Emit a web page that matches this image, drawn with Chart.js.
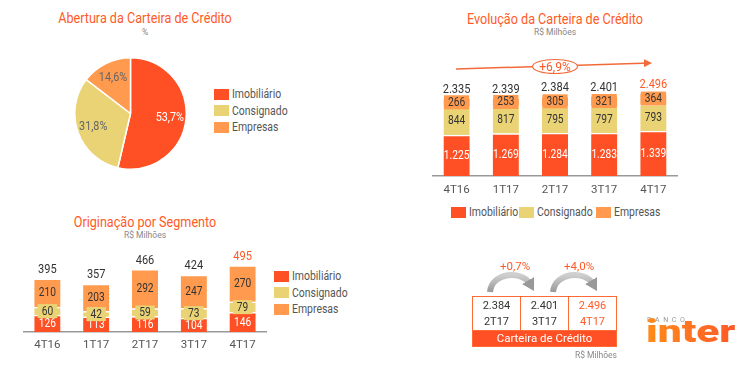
<!DOCTYPE html>
<html>
<head>
<meta charset="utf-8">
<script src="https://cdn.jsdelivr.net/npm/chart.js@4"></script>
<style>
  body { margin: 0; background: #fff; font-family: Roboto, sans-serif; }
  #page { position: relative; width: 745px; height: 369px; overflow: hidden; }
  .abs { position: absolute; }
  .title { color: #ff5a28; font-size: 14px; text-align: center; white-space: nowrap; transform: scaleX(0.9); }
  .sub { color: #888; font-size: 8.5px; text-align: center; white-space: nowrap; }
  .legend div { display: flex; align-items: center; height: 16.5px; color: #555; font-size: 12px; white-space: nowrap; }
  .sw { width: 15px; height: 11px; margin-right: 3px; display: inline-block; flex: none; }
  .txt { display: inline-block; transform: scaleX(0.87); transform-origin: left center; }
  .hlegend { display: flex; color: #555; font-size: 12px; align-items: center; }
  .hlegend div { display: flex; align-items: center; white-space: nowrap; }
  table.cart { border-collapse: collapse; font-size: 11px; }
  table.cart td { border: 1.5px solid #ff6a35; width: 47px; text-align: center; padding: 0; height: 33px; color: #333; line-height: 16px; }
  table.cart td.last { color: #ff5a28; }
  table.cart td.band { background: #ff5025; color: #fff; height: 15px; line-height: 15px; font-size: 11.5px; }
</style>
</head>
<body>
<div id="page">
  <div class="abs title" style="left:45px;top:10px;width:200px;">Abertura da Carteira de Crédito</div>
  <div class="abs sub" style="left:45px;top:27px;width:200px;">%</div>
  <canvas id="pie" class="abs" style="left:74px;top:57px;"></canvas>
  <div id="pieLegend" class="abs legend" style="left:214px;top:86px;"></div>

  <div class="abs title" style="left:455px;top:11px;width:200px;">Evolução da Carteira de Crédito</div>
  <div class="abs sub" style="left:455px;top:27px;width:200px;">R$ Milhões</div>
  <canvas id="evol" class="abs" style="left:432px;top:40px;"></canvas>
  <div id="evolLegend" class="abs hlegend" style="left:451px;top:205px;"></div>

  <div class="abs title" style="left:45px;top:214px;width:200px;">Originação por Segmento</div>
  <div class="abs sub" style="left:45px;top:230px;width:200px;">R$ Milhões</div>
  <canvas id="orig" class="abs" style="left:23px;top:240px;"></canvas>
  <div id="origLegend" class="abs legend" style="left:274px;top:268px;"></div>

  <svg class="abs" style="left:0;top:0;" width="745" height="369">
    <defs>
      <marker id="ah" markerWidth="8" markerHeight="8" refX="6" refY="4" orient="auto" markerUnits="userSpaceOnUse">
        <path d="M0,0 L8,4 L0,8 z" fill="#f26a3a"/>
      </marker>
      <marker id="gh" markerWidth="14" markerHeight="14" refX="4" refY="7" orient="auto" markerUnits="userSpaceOnUse">
        <path d="M0,0 L12,7 L0,14 z" fill="#999"/>
      </marker>
      <linearGradient id="gg" x1="0" y1="0" x2="0" y2="1">
        <stop offset="0" stop-color="#cfcfcf"/><stop offset="1" stop-color="#999"/>
      </linearGradient>
    </defs>
    <line x1="456" y1="69" x2="650" y2="63" stroke="#f26a3a" stroke-width="1.5" marker-end="url(#ah)"/>
    <ellipse cx="555" cy="66.5" rx="22.5" ry="7" fill="#fff" stroke="#f26a3a" stroke-width="1.2"/>
    <text x="555" y="70.5" text-anchor="middle" font-size="12" fill="#ff5a28" font-family="Roboto, sans-serif">+6,9%</text>
    <path d="M490,292 C492,272 522,270 530,284" fill="none" stroke="url(#gg)" stroke-width="6" marker-end="url(#gh)"/>
    <path d="M553,292 C555,272 585,270 593,284" fill="none" stroke="url(#gg)" stroke-width="6" marker-end="url(#gh)"/>
  </svg>
  <div id="growth1" class="abs" style="left:495px;top:259px;width:40px;text-align:center;color:#ff5a28;font-size:11.5px;"></div>
  <div id="growth2" class="abs" style="left:559px;top:259px;width:40px;text-align:center;color:#ff5a28;font-size:11.5px;"></div>

  <table id="cart" class="abs cart" style="left:472px;top:296px;"></table>
  <div class="abs sub" style="left:560px;top:350px;width:57px;text-align:right;">R$ Milhões</div>

  <div class="abs" style="left:647px;top:316px;font-size:7px;line-height:8px;letter-spacing:3.6px;color:#999;font-family:Roboto,sans-serif;">BANCO</div>
  <div id="logo" class="abs" style="left:646px;top:314px;font-size:31px;font-weight:900;font-family:Roboto,sans-serif;color:#ff7020;background:linear-gradient(90deg,#ff8c1a,#ff5a28);-webkit-background-clip:text;background-clip:text;-webkit-text-fill-color:transparent;line-height:36px;transform-origin:left top;white-space:nowrap;">inter</div>
</div>

<script>
const segments = ["Imobiliário", "Consignado", "Empresas"];
const colors = ["#ff5025", "#e9d375", "#ff9a4e"];

// Abertura da Carteira de Crédito (%)
const pieShares = [53.7, 31.8, 14.6];

// Evolução da Carteira de Crédito (R$ Milhões)
const quarters = ["4T16", "1T17", "2T17", "3T17", "4T17"];
const carteiraImob = [1225, 1269, 1284, 1283, 1339];
const carteiraCons = [844, 817, 795, 797, 793];
const carteiraEmp = [266, 253, 305, 321, 364];
const carteiraTotal = [2335, 2339, 2384, 2401, 2496];

// Originação por Segmento (R$ Milhões)
const origImob = [126, 113, 116, 104, 146];
const origCons = [60, 42, 59, 73, 79];
const origEmp = [210, 203, 292, 247, 270];
const origTotal = [395, 357, 466, 424, 495];

const growth = ["+0,7%", "+4,0%"];

const FONT = "Roboto, sans-serif";
const fmt = (v) => v.toLocaleString("pt-BR");

function buildLegend(id, widths) {
  const el = document.getElementById(id);
  segments.forEach((s, i) => {
    const d = document.createElement("div");
    if (widths) d.style.width = widths[i] + "px";
    d.innerHTML = '<span class="sw" style="background:' + colors[i] + '"></span><span class="txt">' + s + "</span>";
    el.appendChild(d);
  });
}
buildLegend("pieLegend");
buildLegend("evolLegend", [68, 76.6, 80]);
buildLegend("origLegend");

// logo wordmark stretched to the width of the original
const logo = document.getElementById("logo");
logo.style.transform = "scaleX(" + (89 / logo.offsetWidth) + ")";

// narrow text, like the condensed face of the original
function narrowText(ctx, txt, x, y, sx) {
  ctx.save();
  ctx.translate(x, y);
  ctx.scale(sx, 1);
  ctx.fillText(txt, 0, 0);
  ctx.restore();
}

// values inside segments and totals above the stacks
const barLabels = {
  id: "barLabels",
  afterDatasetsDraw(chart, args, opts) {
    const ctx = chart.ctx;
    ctx.save();
    ctx.font = "12px " + FONT;
    ctx.textAlign = "center";
    ctx.textBaseline = "middle";
    chart.data.datasets.forEach((ds, di) => {
      chart.getDatasetMeta(di).data.forEach((bar, i) => {
        const p = bar.getProps(["x", "y", "base"], true);
        const cy = (p.y + p.base) / 2;
        const txt = fmt(ds.data[i]);
        if (opts.boxes && opts.boxes[di]) {
          const w = ctx.measureText(txt).width * 0.85 + 8;
          ctx.fillStyle = ds.backgroundColor;
          ctx.fillRect(p.x - w / 2, cy - 7, w, 14);
        }
        ctx.fillStyle = di === 0 ? "#fff" : "#333";
        narrowText(ctx, txt, p.x, cy + 0.5, 0.85);
      });
    });
    const last = chart.getDatasetMeta(chart.data.datasets.length - 1).data;
    ctx.font = "13px " + FONT;
    last.forEach((bar, i) => {
      const p = bar.getProps(["x", "y"], true);
      ctx.fillStyle = i === last.length - 1 ? "#ff5a28" : "#333";
      narrowText(ctx, fmt(opts.totals[i]), p.x, p.y - opts.gap, 0.85);
    });
    ctx.restore();
  }
};

function stackedChart(id, w, h, datas, max, padTop, tickPad, boxes, totals, gap) {
  const c = document.getElementById(id);
  c.width = w; c.height = h;
  return new Chart(c, {
    type: "bar",
    data: {
      labels: quarters,
      datasets: datas.map((d, i) => ({
        label: segments[i],
        data: d,
        backgroundColor: colors[i],
        borderColor: "#fff",
        borderWidth: { top: 1.5, bottom: 0, left: 0, right: 0 },
        borderSkipped: false,
        barThickness: 26,
      })),
    },
    options: {
      responsive: false,
      animation: false,
      events: [],
      layout: { padding: { top: padTop, bottom: 0, left: 0, right: 0 } },
      plugins: { legend: { display: false }, tooltip: { enabled: false }, barLabels: { boxes, totals, gap } },
      scales: {
        x: {
          stacked: true,
          grid: { display: false, drawTicks: false },
          border: { display: true, color: "#999", width: 1.5 },
          ticks: { color: "#555", font: { size: 11.5, family: FONT }, padding: tickPad },
          afterFit: (s) => { s.height = 24; },
        },
        y: { stacked: true, display: false, min: 0, max },
      },
    },
    plugins: [barLabels],
  });
}

stackedChart("evol", 246, 160, [carteiraImob, carteiraCons, carteiraEmp], 3167, 30, 7, [false, false, true], carteiraTotal, 8);
stackedChart("orig", 244, 116, [origImob, origCons, origEmp], 537, 20, 6, [false, true, false], origTotal, 9);

// pie
const pieLabels = {
  id: "pieLabels",
  afterDatasetsDraw(chart) {
    const ctx = chart.ctx;
    ctx.save();
    ctx.font = "12px " + FONT;
    ctx.textAlign = "center";
    ctx.textBaseline = "middle";
    chart.getDatasetMeta(0).data.forEach((arc, i) => {
      const a = arc.getProps(["x", "y", "startAngle", "endAngle", "outerRadius"], true);
      const mid = (a.startAngle + a.endAngle) / 2;
      const r = a.outerRadius * 0.71;
      ctx.fillStyle = i === 0 ? "#fff" : "#666";
      narrowText(ctx, pieShares[i].toFixed(1).replace(".", ",") + "%", a.x + Math.cos(mid) * r, a.y + Math.sin(mid) * r, 0.9);
    });
    ctx.restore();
  }
};
const pc = document.getElementById("pie");
pc.width = 113; pc.height = 113;
new Chart(pc, {
  type: "pie",
  data: {
    labels: segments,
    datasets: [{ data: pieShares, backgroundColor: colors, borderColor: "#fff", borderWidth: 1.5 }],
  },
  options: {
    responsive: false,
    animation: false,
    events: [],
    layout: { padding: 0 },
    plugins: { legend: { display: false }, tooltip: { enabled: false } },
  },
  plugins: [pieLabels],
});

// growth labels and carteira table
document.getElementById("growth1").textContent = growth[0];
document.getElementById("growth2").textContent = growth[1];
const t = document.getElementById("cart");
const n = quarters.length;
let row = "<tr>";
for (let i = n - 3; i < n; i++) {
  row += '<td class="' + (i === n - 1 ? "last" : "") + '">' + fmt(carteiraTotal[i]) + "<br>" + quarters[i] + "</td>";
}
row += "</tr>";
t.innerHTML = row + '<tr><td class="band" colspan="3">Carteira de Crédito</td></tr>';
</script>
</body>
</html>
